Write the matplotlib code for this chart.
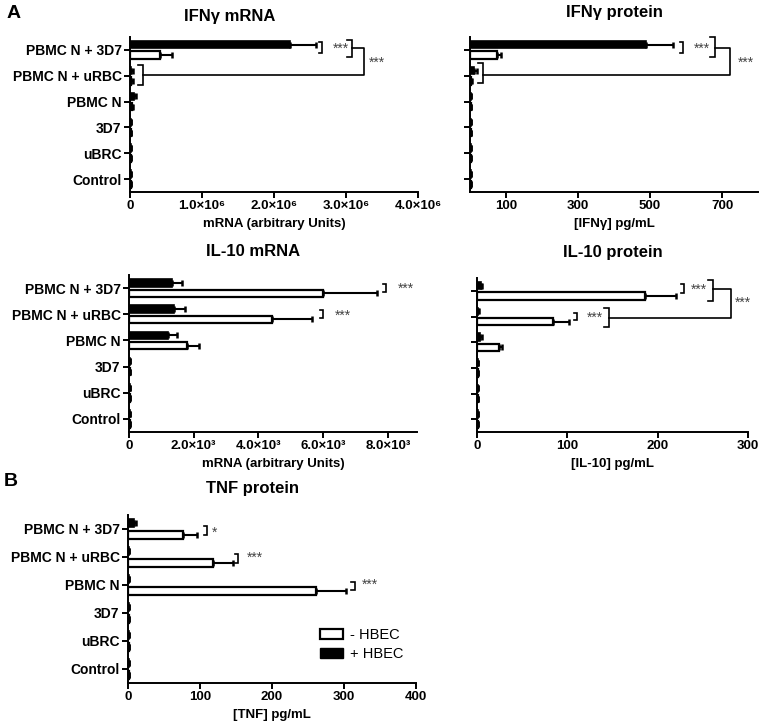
import matplotlib
matplotlib.use("Agg")
import matplotlib.pyplot as plt
from matplotlib.patches import Patch

plt.rcParams['font.family'] = ['Liberation Sans', 'DejaVu Sans']

categories = ['PBMC N + 3D7', 'PBMC N + uRBC', 'PBMC N', '3D7', 'uBRC', 'Control']

# IFNg mRNA
ifng_mrna_plus = [2.22e6, 0.02e6, 0.06e6, 0.01e6, 0.01e6, 0.01e6]
ifng_mrna_plus_err = [0.36e6, 0.02e6, 0.02e6, 0.005e6, 0.005e6, 0.005e6]
ifng_mrna_minus = [0.42e6, 0.02e6, 0.03e6, 0.01e6, 0.01e6, 0.01e6]
ifng_mrna_minus_err = [0.16e6, 0.02e6, 0.01e6, 0.005e6, 0.005e6, 0.005e6]

# IFNg protein
ifng_prot_plus = [490, 12, 2, 2, 2, 2]
ifng_prot_plus_err = [75, 8, 1, 1, 1, 1]
ifng_prot_minus = [75, 4, 2, 2, 2, 2]
ifng_prot_minus_err = [12, 2, 1, 1, 1, 1]

# IL-10 mRNA
il10_mrna_plus = [1330, 1380, 1200, 20, 20, 20]
il10_mrna_plus_err = [310, 350, 280, 10, 10, 10]
il10_mrna_minus = [6000, 4430, 1800, 20, 20, 20]
il10_mrna_minus_err = [1650, 1240, 350, 10, 10, 10]

# IL-10 protein
il10_prot_plus = [4, 1.5, 3, 1, 1, 1]
il10_prot_plus_err = [2, 1, 2, 0.5, 0.5, 0.5]
il10_prot_minus = [186, 84, 24, 1, 1, 1]
il10_prot_minus_err = [34, 18, 4, 0.5, 0.5, 0.5]

# TNF protein
tnf_plus = [8, 1, 1, 1, 1, 1]
tnf_plus_err = [3, 0.5, 0.5, 0.5, 0.5, 0.5]
tnf_minus = [77, 118, 261, 1, 1, 1]
tnf_minus_err = [19, 28, 42, 0.5, 0.5, 0.5]

legend_labels = ['- HBEC', '+ HBEC']

W, H = 764, 725
fig = plt.figure(figsize=(W / 100, H / 100), dpi=100)


def px_axes(l, t, r, b):
    return fig.add_axes([l / W, 1 - b / H, (r - l) / W, (b - t) / H])


def fig_text(x, y, s, **kw):
    fig.text(x / W, 1 - y / H, s, ha='center', va='center', **kw)


def draw_panel(ax, plus, plus_err, minus, minus_err, xmax, xticks, xticklabels, show_labels):
    pos = list(range(len(categories)))
    up = [p - 0.2 for p in pos]
    down = [p + 0.2 for p in pos]
    ax.barh(up, plus, height=0.28, color='black', edgecolor='black', linewidth=1.2)
    ax.barh(down, minus, height=0.28, color='white', edgecolor='black', linewidth=1.6)
    ax.errorbar(plus, up, xerr=[[0] * len(plus), plus_err], fmt='none', ecolor='black',
                elinewidth=1.5, capsize=2.2, capthick=1.8)
    ax.errorbar(minus, down, xerr=[[0] * len(minus), minus_err], fmt='none', ecolor='black',
                elinewidth=1.5, capsize=2.2, capthick=1.8)
    ax.set_ylim(5.5, -0.5)
    ax.set_xlim(0, xmax)
    ax.set_yticks(pos)
    if show_labels:
        ax.set_yticklabels(categories, fontsize=10, fontweight='bold')
    else:
        ax.set_yticklabels([])
    ax.set_xticks(xticks)
    ax.set_xticklabels(xticklabels, fontsize=9.5, fontweight='bold')
    for s in ['top', 'right']:
        ax.spines[s].set_visible(False)
    for s in ['left', 'bottom']:
        ax.spines[s].set_linewidth(1.4)
    ax.tick_params(axis='both', width=1.4, length=4, pad=2)


def bracket(ax, x, y0, y1, arm):
    ax.plot([x - arm, x, x, x - arm], [y0, y0, y1, y1], color='black', lw=1.2,
            clip_on=False, solid_joinstyle='miter')


def stars(ax, x, y, s='***'):
    ax.text(x, y, s, ha='center', va='center', fontsize=10, color='#444444', clip_on=False)


# Panel 1: IFNg mRNA
ax1 = px_axes(130, 37, 418, 192)
draw_panel(ax1, ifng_mrna_plus, ifng_mrna_plus_err, ifng_mrna_minus, ifng_mrna_minus_err,
           4e6, [0, 1e6, 2e6, 3e6, 4e6], ['0', '1.0×10⁶', '2.0×10⁶', '3.0×10⁶', '4.0×10⁶'], True)
a = 4e6 * 0.012
bracket(ax1, 2.67e6, -0.31, 0.12, a)
stars(ax1, 2.93e6, -0.06)
bracket(ax1, 3.08e6, -0.39, 0.27, a * 1.5)
ax1.plot([3.08e6, 3.25e6, 3.25e6, 0.18e6], [-0.08, -0.08, 0.97, 0.97], color='black', lw=1.2, clip_on=False)
bracket(ax1, 0.18e6, 0.58, 1.36, a * 1.5)
stars(ax1, 3.43e6, 0.5)
ax1.set_xlabel('mRNA (arbitrary Units)', fontsize=9.5, fontweight='bold', labelpad=4)

# Panel 2: IFNg protein
ax2 = px_axes(470, 37, 758, 192)
draw_panel(ax2, ifng_prot_plus, ifng_prot_plus_err, ifng_prot_minus, ifng_prot_minus_err,
           800, [100, 300, 500, 700], ['100', '300', '500', '700'], False)
a = 800 * 0.012
bracket(ax2, 592, -0.31, 0.12, a)
stars(ax2, 645, -0.06)
bracket(ax2, 680, -0.5, 0.27, a * 1.5)
ax2.plot([680, 722, 722, 36], [-0.08, -0.08, 0.97, 0.97], color='black', lw=1.2, clip_on=False)
bracket(ax2, 36, 0.5, 1.28, a * 1.5)
stars(ax2, 767, 0.5)
ax2.set_xlabel('[IFNγ] pg/mL', fontsize=9.5, fontweight='bold', labelpad=4)

# Panel 3: IL-10 mRNA
ax3 = px_axes(129, 275, 417, 432)
draw_panel(ax3, il10_mrna_plus, il10_mrna_plus_err, il10_mrna_minus, il10_mrna_minus_err,
           8.9e3, [0, 2e3, 4e3, 6e3, 8e3], ['0', '2.0×10³', '4.0×10³', '6.0×10³', '8.0×10³'], True)
a = 8.9e3 * 0.012
bracket(ax3, 7.95e3, -0.17, 0.15, a)
stars(ax3, 8.55e3, 0.04)
bracket(ax3, 6.0e3, 0.83, 1.15, a)
stars(ax3, 6.6e3, 1.06)
ax3.set_xlabel('mRNA (arbitrary Units)', fontsize=9.5, fontweight='bold', labelpad=4)

# Panel 4: IL-10 protein
ax4 = px_axes(477, 278, 748, 432)
draw_panel(ax4, il10_prot_plus, il10_prot_plus_err, il10_prot_minus, il10_prot_minus_err,
           300, [0, 100, 200, 300], ['0', '100', '200', '300'], False)
a = 300 * 0.012
bracket(ax4, 229, -0.25, 0.1, a)
stars(ax4, 246, -0.03)
bracket(ax4, 261, -0.43, 0.38, a * 1.5)
ax4.plot([261, 281, 281, 146], [-0.08, -0.08, 1.04, 1.04], color='black', lw=1.2, clip_on=False)
bracket(ax4, 146, 0.65, 1.42, a * 1.5)
bracket(ax4, 111, 0.85, 1.15, a)
stars(ax4, 130, 1.04)
stars(ax4, 294, 0.45)
ax4.set_xlabel('[IL-10] pg/mL', fontsize=9.5, fontweight='bold', labelpad=4)

# Panel 5: TNF protein
ax5 = px_axes(128, 515, 416, 683)
draw_panel(ax5, tnf_plus, tnf_plus_err, tnf_minus, tnf_minus_err,
           400, [0, 100, 200, 300, 400], ['0', '100', '200', '300', '400'], True)
a = 400 * 0.012
bracket(ax5, 110, -0.12, 0.2, a)
stars(ax5, 120, 0.12, '*')
bracket(ax5, 153, 0.88, 1.2, a)
stars(ax5, 176, 1.02)
bracket(ax5, 315, 1.88, 2.17, a)
stars(ax5, 336, 2.0)
ax5.set_xlabel('[TNF] pg/mL', fontsize=9.5, fontweight='bold', labelpad=4)
handles = [Patch(facecolor='white', edgecolor='black', linewidth=1.6),
           Patch(facecolor='black', edgecolor='black')]
ax5.legend(handles, legend_labels, loc='upper left', bbox_to_anchor=(0.64, 0.37),
           frameon=False, fontsize=10.5, handlelength=1.6, handleheight=0.7,
           handletextpad=0.5, labelspacing=0.35, borderpad=0)

# titles and panel letters
fig_text(230, 16, 'IFNγ mRNA', fontsize=12, fontweight='bold')
fig_text(614, 13, 'IFNγ protein', fontsize=12, fontweight='bold')
fig_text(253, 252, 'IL-10 mRNA', fontsize=12, fontweight='bold')
fig_text(613, 252, 'IL-10 protein', fontsize=12, fontweight='bold')
fig_text(252, 488, 'TNF protein', fontsize=12, fontweight='bold')
fig_text(14, 13, 'A', fontsize=14, fontweight='bold')
fig_text(11, 482, 'B', fontsize=14, fontweight='bold')

fig.savefig('out.png', dpi=100)
